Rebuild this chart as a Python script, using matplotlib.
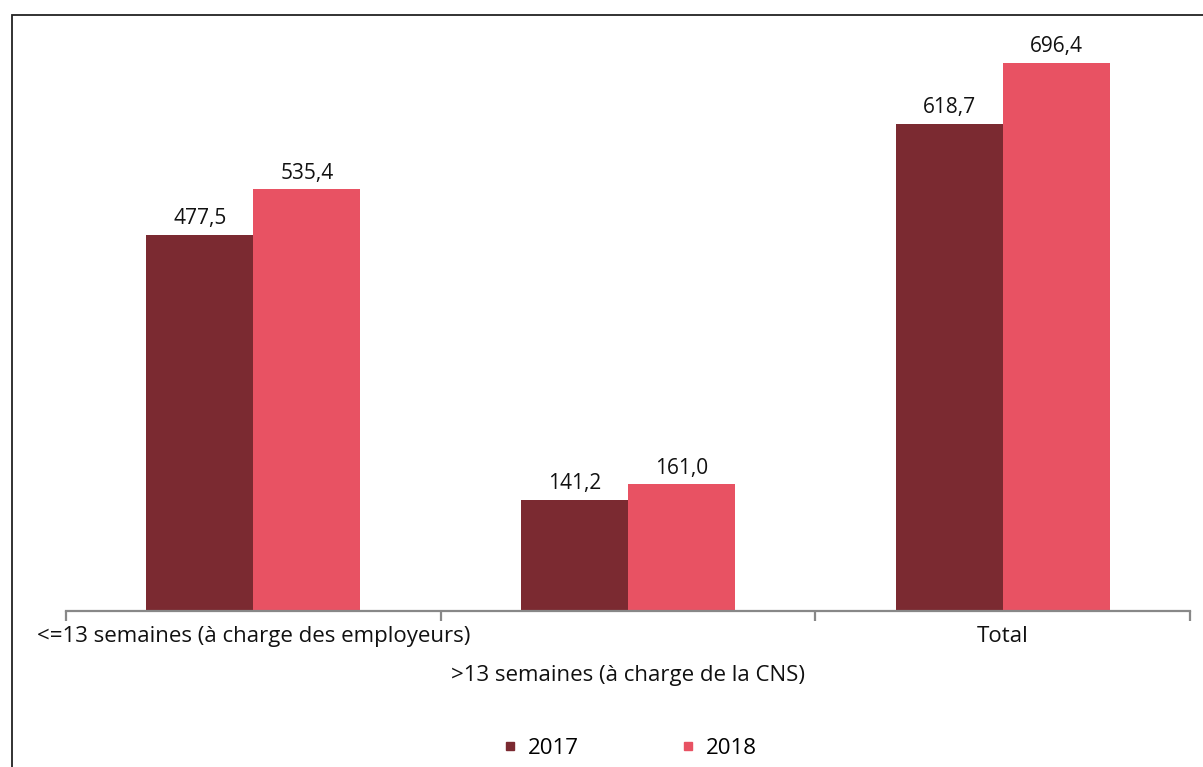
import matplotlib as mpl
import matplotlib.pyplot as plt
from matplotlib.patches import Rectangle
from matplotlib.lines import Line2D
import numpy as np

mpl.rcParams.update({'font.family': ['Open Sans', 'DejaVu Sans'], 'font.size': 14})

categories = ['<=13 semaines (à charge des employeurs)',
              '>13 semaines (à charge de la CNS)',
              'Total']
years = ['2017', '2018']
v2017 = [477.5, 141.2, 618.7]
v2018 = [535.4, 161.0, 696.4]
colors = ['#7B2A31', '#E85263']

W, H = 1203, 767
fig = plt.figure(figsize=(W / 100, H / 100), dpi=100, facecolor='w')
ax = fig.add_axes([66 / W, 156 / H, 1124 / W, 596 / H])

x = np.arange(len(categories))
bw = 0.286
b1 = ax.bar(x - bw / 2, v2017, bw, color=colors[0], label=years[0])
b2 = ax.bar(x + bw / 2, v2018, bw, color=colors[1], label=years[1])

for bars in (b1, b2):
    ax.bar_label(bars, labels=[f'{v:.1f}'.replace('.', ',') for v in bars.datavalues],
                 padding=4, fontsize=15, color='#111111')

ax.set_xlim(-0.5, 2.5)
ax.set_ylim(0, 757)
ax.set_yticks([])
for s in ['top', 'right', 'left']:
    ax.spines[s].set_visible(False)
ax.spines['bottom'].set_color('#888888')
ax.spines['bottom'].set_linewidth(1.6)

ax.set_xticks([-0.5, 0.5, 1.5, 2.5])
ax.set_xticklabels([])
ax.tick_params(axis='x', length=7, width=1.6, color='#888888')

offsets = [0.042, 0.109, 0.042]
for xi, lab, off in zip(x, categories, offsets):
    ax.text(xi, -off, lab, transform=ax.get_xaxis_transform(),
            ha='center', va='center', fontsize=16, color='#111111')

handles = [Line2D([], [], ls='', marker='s', ms=6, color=c) for c in colors]
fig.legend(handles, years, loc='center', bbox_to_anchor=(630 / W, 19 / H),
           ncol=2, frameon=False, handlelength=0.6, handletextpad=0.5,
           columnspacing=4.6, fontsize=16)

# outer frame (right and bottom edges run off the image)
fig.patches.append(Rectangle((12 / W, -0.1), 1.2, 1 - 15 / H + 0.1,
                             transform=fig.transFigure, fill=False,
                             ec='#222222', lw=1.3))

fig.savefig('out.png', dpi=100)
